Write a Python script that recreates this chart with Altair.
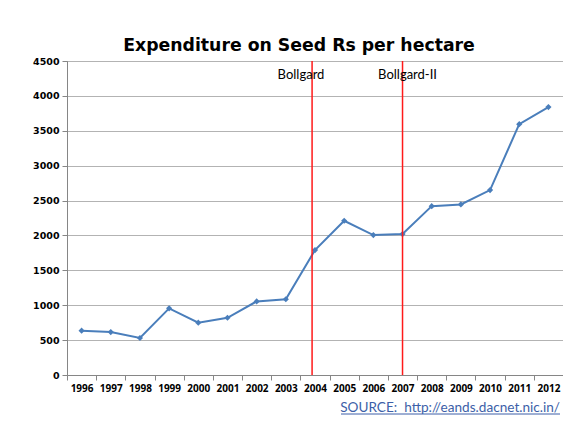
import altair as alt
import pandas as pd

years = ["1996", "1997", "1998", "1999", "2000", "2001", "2002", "2003", "2004",
         "2005", "2006", "2007", "2008", "2009", "2010", "2011", "2012"]
values = [635, 615, 530, 955, 750, 820, 1055, 1085, 1790, 2210, 2005, 2020,
          2420, 2445, 2650, 3595, 3840]
event_years = ["2004", "2007"]
event_labels = ["Bollgard", "Bollgard-II"]
y_ticks = [0, 500, 1000, 1500, 2000, 2500, 3000, 3500, 4000, 4500]
title_text = "Expenditure on Seed Rs per hectare"
source_text = "SOURCE:\u00a0\u00a0http://eands.dacnet.nic.in/"

W, H = 496, 314
BLUE = "#4a7ebb"
RED = "#ff1a1a"

df = pd.DataFrame({"year": years, "value": values})

xscale = alt.Scale(type="band", domain=years, paddingInner=0, paddingOuter=0)
yscale = alt.Scale(domain=[0, 4500], nice=False)

x_enc = alt.X(
    "year:O", scale=xscale, bandPosition=0.5, title=None,
    axis=alt.Axis(tickBand="extent", labelAngle=0, labelFont="Open Sans",
                  labelFontWeight="bold", labelFontSize=10, labelColor="#000000",
                  domainColor="#868686", tickColor="#868686", tickSize=5,
                  labelPadding=3, grid=False),
)
y_enc = alt.Y(
    "value:Q", scale=yscale, title=None,
    axis=alt.Axis(values=y_ticks, format="d", labelFont="DejaVu Sans",
                  labelFontWeight="bold", labelFontSize=9.5, labelColor="#000000",
                  domainColor="#868686", tickColor="#868686", tickSize=5,
                  labelPadding=3, grid=True, gridColor="#b3b3b3", gridWidth=1),
)

base = alt.Chart(df)
line = base.mark_line(color=BLUE, strokeWidth=2).encode(x=x_enc, y=y_enc)
pts = base.mark_point(shape="diamond", filled=True, size=38, color=BLUE,
                      opacity=1).encode(x=x_enc, y=y_enc)

ev = pd.DataFrame({"year": event_years, "label": event_labels})
rule1 = alt.Chart(ev.iloc[[0]]).mark_rule(color=RED, strokeWidth=1.5).encode(
    x=alt.X("year:O", scale=xscale, bandPosition=0.4))
rule2 = alt.Chart(ev.iloc[[1]]).mark_rule(color=RED, strokeWidth=1.5).encode(
    x=alt.X("year:O", scale=xscale, bandPosition=0.5))
lab1 = alt.Chart(ev.iloc[[0]]).mark_text(font="Lato", fontSize=13, dx=-14,
                                         baseline="middle", color="#000000").encode(
    x=alt.X("year:O", scale=xscale, bandPosition=0.5), y=alt.value(14), text="label:N")
lab2 = alt.Chart(ev.iloc[[1]]).mark_text(font="Lato", fontSize=13, dx=5,
                                         baseline="middle", color="#000000").encode(
    x=alt.X("year:O", scale=xscale, bandPosition=0.5), y=alt.value(14), text="label:N")

src = pd.DataFrame({"t": [source_text]})
src_text = alt.Chart(src).mark_text(font="Lato", fontSize=13.6, align="right",
                                    baseline="middle", color="#3d5fa8").encode(
    x=alt.value(W - 3), y=alt.value(H + 33), text="t:N")
underline = alt.Chart(src).mark_rule(color="#3d5fa8", strokeWidth=1).encode(
    x=alt.value(274), x2=alt.value(W - 3), y=alt.value(H + 39))

chart = alt.layer(line, pts, rule1, rule2, lab1, lab2, src_text, underline).properties(
    width=W, height=H,
    title=alt.TitleParams(title_text, font="DejaVu Sans", fontSize=17.3,
                          fontWeight="bold", color="#000000", anchor="middle",
                          dx=-16, offset=2),
    autosize=alt.AutoSizeParams(type="none"),
    padding={"left": 59, "top": 53, "right": 0, "bottom": 40},
    background="#ffffff",
).configure_view(stroke="#7a7a7a", strokeWidth=1)

chart.save("out.html", embed_options={"renderer": "svg", "actions": False})
